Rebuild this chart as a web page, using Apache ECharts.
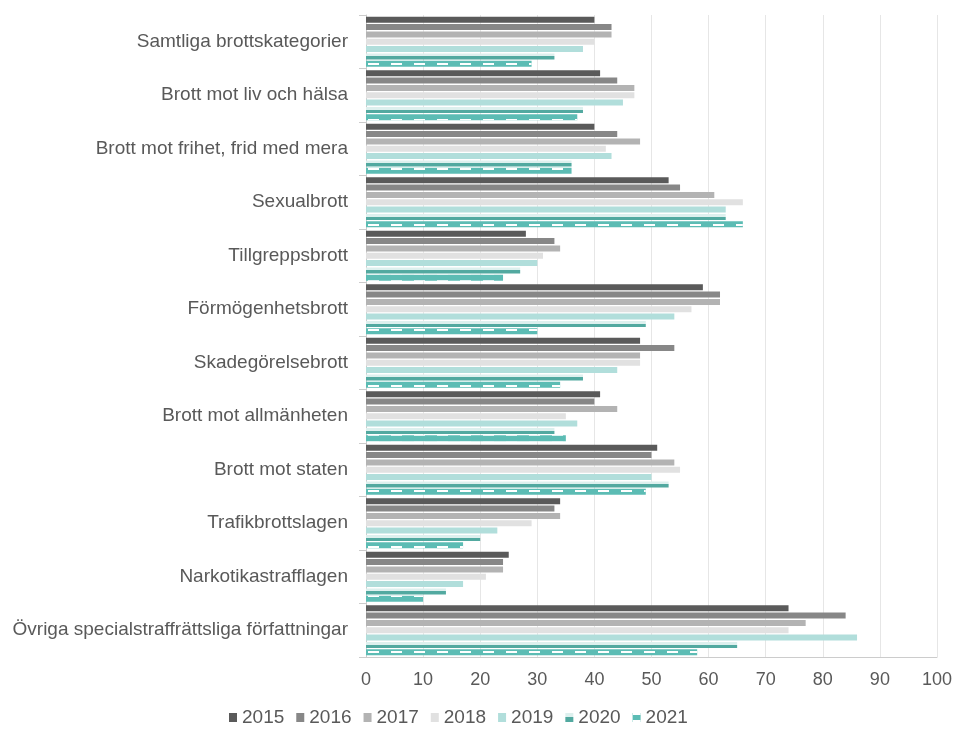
<!DOCTYPE html>
<html>
<head>
<meta charset="utf-8">
<script src="https://cdn.jsdelivr.net/npm/echarts@6/dist/echarts.min.js"></script>
<style>
html,body{margin:0;padding:0;background:#fff;}
#c{width:955px;height:734px;}
</style>
</head>
<body>
<div id="c"></div>
<script>
var categories = [
  'Samtliga brottskategorier',
  'Brott mot liv och hälsa',
  'Brott mot frihet, frid med mera',
  'Sexualbrott',
  'Tillgreppsbrott',
  'Förmögenhetsbrott',
  'Skadegörelsebrott',
  'Brott mot allmänheten',
  'Brott mot staten',
  'Trafikbrottslagen',
  'Narkotikastrafflagen',
  'Övriga specialstraffrättsliga författningar'
];
var years = ['2015','2016','2017','2018','2019','2020','2021'];
var v2015 = [40, 41, 40, 53, 28, 59, 48, 41, 51, 34, 25, 74];
var v2016 = [43, 44, 44, 55, 33, 62, 54, 40, 50, 33, 24, 84];
var v2017 = [43, 47, 48, 61, 34, 62, 48, 44, 54, 34, 24, 77];
var v2018 = [40, 47, 42, 66, 31, 57, 48, 35, 55, 29, 21, 74];
var v2019 = [38, 45, 43, 63, 30, 54, 44, 37, 50, 23, 17, 86];
var v2020 = [33, 38, 36, 63, 27, 49, 38, 33, 53, 20, 14, 65];
var v2021 = [29, 37, 36, 66, 24, 30, 34, 35, 49, 17, 10, 58];
var xTicks = [0,10,20,30,40,50,60,70,80,90,100];

var values = [v2015, v2016, v2017, v2018, v2019, v2020, v2021];
var colors = [
  '#5a5a5a',
  '#878787',
  '#b3b3b3',
  '#e1e1e1',
  '#b1dedb',
  {type:'linear', x:0, y:0, x2:0, y2:1, colorStops:[
    {offset:0, color:'#ddf0ee'}, {offset:0.5, color:'#ddf0ee'},
    {offset:0.5, color:'#52a9a0'}, {offset:1, color:'#52a9a0'}]},
  '#5cbcb4'
];

var series = years.map(function(y, i){
  var s = {
    name: y,
    type: 'bar',
    data: values[i],
    barWidth: 6,
    barGap: '22%',
    itemStyle: { color: colors[i] }
  };
  if (i === 6) {
    s.itemStyle.decal = {
      symbol: 'rect',
      symbolSize: 1,
      color: '#ffffff',
      dashArrayX: [11, 12],
      dashArrayY: [2, 5],
      rotation: 0
    };
  }
  return s;
});

var chart = echarts.init(document.getElementById('c'), null, {renderer:'canvas'});
chart.setOption({
  animation: false,
  textStyle: { fontFamily: 'Liberation Sans, Arial, sans-serif' },
  grid: { left: 366, right: 18, top: 15, bottom: 77, containLabel: false },
  legend: {
    data: years,
    bottom: 2,
    left: 224,
    itemWidth: 8,
    itemHeight: 9,
    itemGap: 12,
    icon: 'rect',
    textStyle: { color: '#595959', fontSize: 19, fontFamily: 'Liberation Sans, Arial, sans-serif' }
  },
  xAxis: {
    type: 'value',
    min: 0,
    max: 100,
    interval: 10,
    axisLine: { show: true, lineStyle: { color: '#cccccc' } },
    axisTick: { show: false },
    splitLine: { show: true, lineStyle: { color: '#e6e6e6' } },
    axisLabel: {
      color: '#595959', fontSize: 18, margin: 14,
      formatter: function(v){ return xTicks.indexOf(v) >= 0 ? String(v) : ''; }
    }
  },
  yAxis: {
    type: 'category',
    data: categories,
    inverse: true,
    axisLine: { show: true, lineStyle: { color: '#cccccc' } },
    axisTick: { show: true, length: 7, lineStyle: { color: '#cccccc' } },
    axisLabel: { color: '#595959', fontSize: 19, margin: 18 }
  },
  series: series
});
</script>
</body>
</html>
